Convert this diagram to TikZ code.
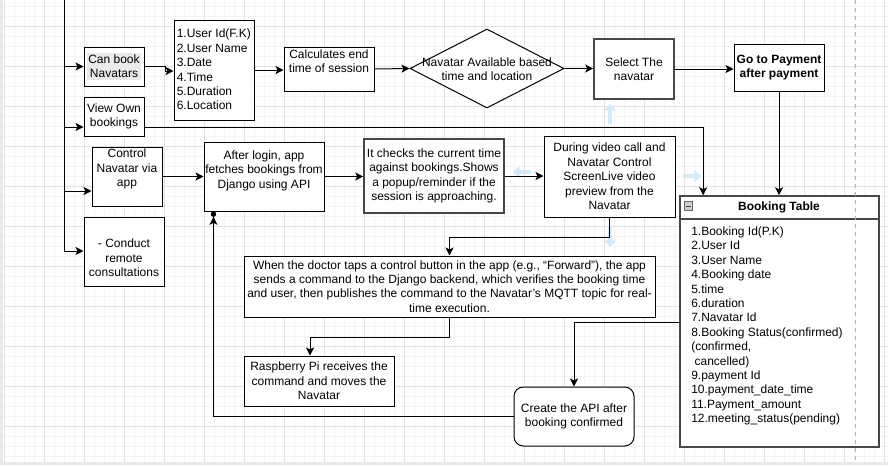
\documentclass[tikz,border=0pt]{standalone}
\usepackage{fontspec}
\setmainfont{Liberation Sans}
\usetikzlibrary{arrows.meta,shapes.geometric,calc}
\definecolor{gridminor}{HTML}{F4F4F4}
\definecolor{gridmajor}{HTML}{E2E2E2}
\definecolor{bandgrey}{HTML}{E8E9EB}
\definecolor{hoverblue}{HTML}{D3EAFA}
\definecolor{hlgrey}{HTML}{EAEAEA}
\newcommand\fs{\fontsize{9}{10.8}\selectfont}
\newcommand\bx[7][]{\node[box,#1,minimum width={(#4-#2)*0.75pt},minimum height={(#5-#3)*0.75pt}] (#6) at ({(#2+#4)/2},{(#3+#5)/2}) {#7};}
\begin{document}
\begin{tikzpicture}[x=0.75pt,y=-0.75pt,
  box/.style={draw=black,line width=0.75pt,fill=white,inner sep=0pt,font=\fs,align=center},
  heavy/.style={draw=black!72,line width=1.2pt},
  txt/.style={inner sep=0pt,font=\fs,align=center},
  line/.style={draw=black,line width=0.75pt},
  conn/.style={draw=black,line width=0.75pt,-{Stealth[length=6pt,width=6pt,inset=1.5pt]}},
  hov/.style={draw=hoverblue,line width=3.5pt,-{Triangle[length=5pt,width=9pt]}}]
\useasboundingbox (0,0) rectangle (888,465);
\fill[white] (0,0) rectangle (888,465);
% grid
\foreach \x in {4,14,...,884} \draw[gridminor,line width=0.75pt] (\x,0) -- (\x,465);
\foreach \y in {6,16,...,456} \draw[gridminor,line width=0.75pt] (0,\y) -- (888,\y);
\foreach \x in {4,44,...,884} \draw[gridmajor,line width=0.75pt] (\x,0) -- (\x,465);
\foreach \y in {26,66,...,426} \draw[gridmajor,line width=0.75pt] (0,\y) -- (888,\y);
\fill[bandgrey] (0,0) rectangle (3,465);
\fill[bandgrey] (0,462) rectangle (888,465);

% hover arrows (light blue)
\draw[hov] (610,124) -- (610,104);
\draw[hov] (683,176) -- (701,176);
\draw[hov] (610,226) -- (610,247);
\draw[hov] (531,172) -- (513,172);

% boxes
\bx{84}{47}{144}{86}{canbook}{}
\node[txt,fill=hlgrey,inner sep=1.2pt] (canbookT) at (114,66.5) {Can book\\Navatars};
\bx{174}{20}{254}{120}{items}{}
\node[txt,align=left,anchor=north west] (itemsT) at (176.5,29) {1.User Id(F.K)\\2.User Name\\3.Date\\4.Time\\5.Duration\\6.Location};
\bx{284}{47}{374}{91}{calc}{}
\node[txt] (calcT) at (329,61.5) {Calculates end\\time of session};
\node[draw=black,line width=0.75pt,fill=white,diamond,inner sep=0pt,minimum width={154*0.75pt},minimum height={79*0.75pt}] (diam) at (487,68.5) {};
\node[txt] (diamT) at (487,69.5) {Navatar Available based\\time and location};
\bx[heavy]{594}{39}{674}{99}{select}{Select The\\navatar}
\bx{734}{44}{824}{91}{pay}{\bfseries Go to Payment\\\bfseries after payment}
\bx{84}{97}{144}{136}{viewown}{View Own\\bookings}
\bx{92}{147}{162}{206}{control}{}
\node[txt] (controlT) at (127,169) {Control\\Navatar via\\app};
\bx{84}{217}{164}{286}{conduct}{}
\node[txt] (conductT) at (124,258) {- Conduct\\remote\\consultations};
\bx{204}{142}{324}{211}{login}{}
\node[txt] (loginT) at (264,170.5) {After login, app\\fetches bookings from\\Django using API};
\bx[heavy]{364}{139}{504}{213}{checks}{It checks the current time\\against bookings.Shows\\a popup/reminder if the\\session is approaching.}
\bx{544}{136}{675}{217}{during}{During video call and\\Navatar Control\\ScreenLive video\\preview from the\\Navatar}
\bx{244}{256}{655}{317}{when}{When the doctor taps a control button in the app (e.g., “Forward”), the app\\sends a command to the Django backend, which verifies the booking time\\and user, then publishes the command to the Navatar's MQTT topic for real-\\time execution.}
\bx{244}{356}{394}{406}{rasp}{Raspberry Pi receives the\\command and moves the\\Navatar}
\bx[rounded corners=7pt]{514}{387}{634}{446}{create}{Create the API after\\booking confirmed}

% booking table
\bx[heavy]{680}{196}{879}{447}{table}{}
\draw[black!72,line width=1pt] (680,219) -- (879,219);
\node[draw=black!60,fill=black!18,line width=0.6pt,minimum size=6.5pt,inner sep=0pt] (minus) at (688.5,206) {};
\draw[black!75,line width=0.6pt] ([xshift=1.4pt]minus.west) -- ([xshift=-1.4pt]minus.east);
\node[txt,font=\fs\bfseries] (tableT) at (779,207.5) {Booking Table};
\node[txt,align=left,anchor=north west] (tableItems) at (691,226.5) {1.Booking Id(P.K)\\2.User Id\\3.User Name\\4.Booking date\\5.time\\6.duration\\7.Navatar Id\\8.Booking Status(confirmed)\\(confirmed,\\\hspace*{2.5pt}cancelled)\\9.payment Id\\10.payment\_date\_time\\11.Payment\_amount\\12.meeting\_status(pending)};

% page-break dashed line
\draw[black!30,line width=0.75pt,dash pattern=on 3pt off 3pt] (855,0) -- (855,462);

% left trunk
\coordinate (trunktop) at (64,0);
\coordinate (trunkbot) at (64,251);
\draw[line] (trunktop) -- (trunkbot);
\draw[conn] (trunktop |- canbook.west) -- (canbook.west);
\draw[conn] (trunktop |- 0,127) -- (viewown.west |- 0,127);
\draw[conn] (trunktop |- 0,191) -- (control.west |- 0,191);
\draw[conn] (trunkbot) -- (conduct.west |- trunkbot);

% top row
\draw[conn] (canbook.east) -- ++(21,0) |- (items.west |- 0,71);
\draw[conn] (items.east |- 0,70) -- (calc.west |- 0,70);
\draw[conn] (calc.east |- 0,69) -- (diam.west);
\draw[conn] (diam.east) -- (select.west |- diam.east);
\draw[conn] (select.east) -- (pay.west |- select.east);
\draw[conn] (pay.south) -- (pay.south |- table.north);
\draw[conn] (viewown.east |- 0,127) -| ($(table.north west)+(24,0)$);

% middle row
\draw[conn] (control.east |- login.west) -- (login.west);
\draw[conn] (login.east) -- (checks.west |- login.east);
\draw[conn] (checks.east) -- (during.west |- checks.east);
\draw[conn] (during.south) -- ++(0,20) -| (when.north);
\draw[conn] (when.south) -- ++(0,20) -| ($(rasp.north)+(-9,0)$);
\draw[conn] (table.west |- 0,322) -| (create.north);
\draw[line,-{Stealth[length=6pt,width=6pt,inset=1.5pt] Circle[length=4pt]}] (create.west) -| ($(login.south west)+(10,0)$);
\end{tikzpicture}
\end{document}
